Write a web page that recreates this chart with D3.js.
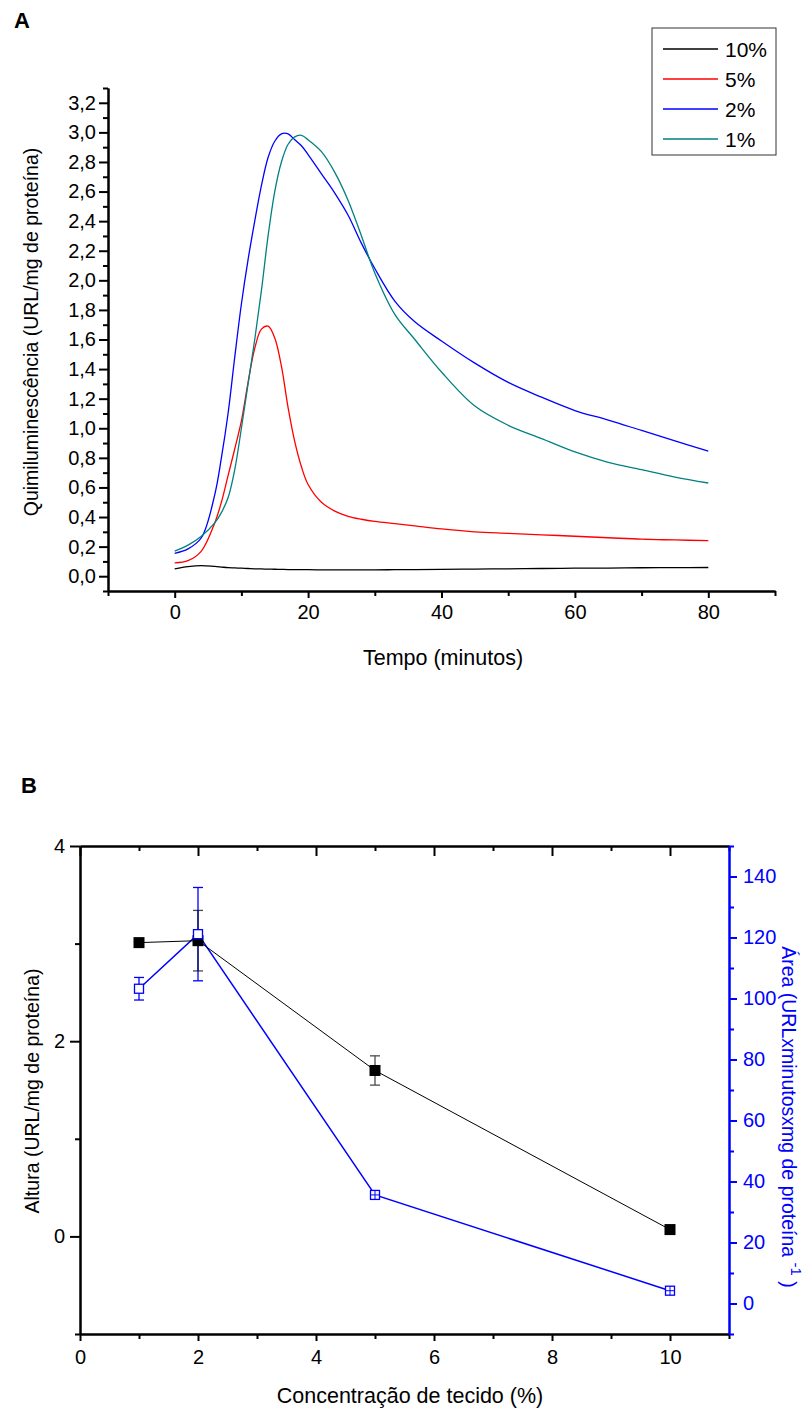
<!DOCTYPE html>
<html>
<head>
<meta charset="utf-8">
<script src="https://cdn.jsdelivr.net/npm/d3@7"></script>
<style>
  body { margin: 0; background: #fff; }
  text { font-family: "Liberation Sans", Arial, sans-serif; }
</style>
</head>
<body>
<div id="chart"></div>
<script>
const width = 812
const height = 1411

// Panel A: time course of chemiluminescence
const tempo = [0, 2, 4, 6, 7, 8, 9, 10, 11, 12, 13, 14, 15, 16, 17, 18, 19, 20, 22, 24, 26, 28, 30, 33, 36, 40, 45, 50, 55, 60, 65, 70, 75, 80]
const conc10 = [0.05, 0.065, 0.072, 0.066, 0.062, 0.058, 0.056, 0.054, 0.052, 0.05, 0.049, 0.048, 0.047, 0.046, 0.045, 0.045, 0.044, 0.044, 0.043, 0.043, 0.043, 0.043, 0.043, 0.044, 0.045, 0.046, 0.048, 0.05, 0.052, 0.054, 0.055, 0.057, 0.058, 0.059]
const conc5 = [0.09, 0.105, 0.17, 0.36, 0.5, 0.68, 0.86, 1.05, 1.31, 1.54, 1.67, 1.69, 1.61, 1.42, 1.14, 0.91, 0.74, 0.62, 0.5, 0.44, 0.405, 0.385, 0.37, 0.355, 0.34, 0.32, 0.3, 0.29, 0.28, 0.27, 0.26, 0.25, 0.245, 0.24]
const conc2 = [0.155, 0.185, 0.26, 0.55, 0.8, 1.1, 1.48, 1.84, 2.14, 2.4, 2.64, 2.83, 2.94, 2.99, 2.99, 2.95, 2.91, 2.85, 2.72, 2.59, 2.44, 2.25, 2.08, 1.86, 1.72, 1.59, 1.44, 1.31, 1.21, 1.12, 1.055, 0.985, 0.915, 0.845]
const conc1 = [0.17, 0.21, 0.27, 0.36, 0.43, 0.53, 0.72, 1.0, 1.3, 1.6, 1.93, 2.3, 2.6, 2.8, 2.92, 2.97, 2.98, 2.95, 2.87, 2.73, 2.54, 2.3, 2.05, 1.77, 1.6, 1.38, 1.15, 1.02, 0.93, 0.84, 0.77, 0.72, 0.67, 0.63]
const seriesNames = ["10%", "5%", "2%", "1%"]
const seriesColors = ["#000000", "#ff0000", "#0000ff", "#008080"]
const yTicksA = [0, 0.2, 0.4, 0.6, 0.8, 1.0, 1.2, 1.4, 1.6, 1.8, 2.0, 2.2, 2.4, 2.6, 2.8, 3.0, 3.2]
const xTicksA = [0, 20, 40, 60, 80]

// Panel B: peak height and area vs tissue concentration
const concTecido = [1, 2, 5, 10]
const altura = [3.01, 3.03, 1.70, 0.07]
const alturaErr = [0, 0.31, 0.15, 0]
const area = [103.2, 121.1, 35.6, 4.2]
const areaErr = [3.7, 15.3, 0.6, 0.6]
const yTicksB = [0, 2, 4]
const xTicksB = [0, 2, 4, 6, 8, 10]
const yTicksB2 = [0, 20, 40, 60, 80, 100, 120, 140]

const fontSize = "20px"
const titleH = "21.5px"   // horizontal titles
const titleV = "19.5px"   // vertical titles

const svg = d3.select("#chart")
  .append("svg")
  .attr("width", width)
  .attr("height", height)

function styleAxis(g, color, sw) {
  g.select(".domain").attr("stroke", color).attr("stroke-width", sw)
  g.selectAll(".tick line").attr("stroke", color).attr("stroke-width", sw)
  g.selectAll(".tick text").attr("fill", color)
    .style("font-family", '"Liberation Sans", Arial, sans-serif')
    .style("font-size", fontSize)
}

// ---------- Panel A ----------
const xA = d3.scaleLinear().domain([-10, 90]).range([108, 775])
const yA = d3.scaleLinear().domain([-0.1, 3.3]).range([591, 88])

svg.append("text").attr("x", 14).attr("y", 28)
  .style("font-weight", "bold").style("font-size", "22px").text("A")

const lineA = d3.line()
  .x(d => xA(d[0]))
  .y(d => yA(d[1]))
  .curve(d3.curveCatmullRom.alpha(0.5))

const seriesA = [conc10, conc5, conc2, conc1]
seriesA.forEach((vals, i) => {
  svg.append("path")
    .datum(tempo.map((t, j) => [t, vals[j]]))
    .attr("fill", "none")
    .attr("stroke", seriesColors[i])
    .attr("stroke-width", 1.3)
    .attr("d", lineA)
})

// minor ticks first, then major ticks with labels
const yMinorA = d3.range(-1, 34, 2).map(d => d / 10)
svg.append("g").attr("transform", "translate(108,0)")
  .call(d3.axisLeft(yA).tickValues(yMinorA).tickSize(5).tickSizeOuter(0).tickFormat(""))
  .call(g => styleAxis(g, "#000", 2))
svg.append("g").attr("transform", "translate(108,0)")
  .call(d3.axisLeft(yA).tickValues(yTicksA).tickSize(9).tickSizeOuter(0).tickPadding(3)
    .tickFormat(d => d3.format(".1f")(d).replace(".", ",")))
  .call(g => styleAxis(g, "#000", 2))

svg.append("g").attr("transform", "translate(0,591)")
  .call(d3.axisBottom(xA).tickValues([-10, 10, 30, 50, 70, 90]).tickSize(5).tickSizeOuter(0).tickFormat(""))
  .call(g => styleAxis(g, "#000", 2))
svg.append("g").attr("transform", "translate(0,591)")
  .call(d3.axisBottom(xA).tickValues(xTicksA).tickSize(7).tickSizeOuter(0).tickPadding(7))
  .call(g => styleAxis(g, "#000", 2))

svg.append("text")
  .attr("transform", "translate(38,332) rotate(-90)")
  .attr("text-anchor", "middle")
  .style("font-size", titleV)
  .text("Quimiluminescência (URL/mg de proteína)")

svg.append("text")
  .attr("x", 443).attr("y", 665)
  .attr("text-anchor", "middle")
  .style("font-size", titleH)
  .text("Tempo (minutos)")

// Legend
const legend = svg.append("g").attr("id", "legend")
legend.append("rect")
  .attr("x", 652).attr("y", 28).attr("width", 124).attr("height", 127)
  .attr("fill", "#fff").attr("stroke", "#333").attr("stroke-width", 1)
seriesNames.forEach((name, i) => {
  const y = 49 + i * 30
  legend.append("line")
    .attr("x1", 663).attr("x2", 718).attr("y1", y).attr("y2", y)
    .attr("stroke", seriesColors[i]).attr("stroke-width", 1.3)
  legend.append("text")
    .attr("x", 725).attr("y", y + 8)
    .style("font-size", "21px")
    .text(name)
})

// ---------- Panel B ----------
const xB = d3.scaleLinear().domain([0, 11]).range([80, 729])
const yB = d3.scaleLinear().domain([-1, 4]).range([1334, 846])
const yB2 = d3.scaleLinear().domain([-10, 150]).range([1334, 846])

svg.append("text").attr("x", 21).attr("y", 793)
  .style("font-weight", "bold").style("font-size", "22px").text("B")

// top axis (ticks pointing inward, no labels)
svg.append("g").attr("transform", "translate(0,846)")
  .call(d3.axisTop(xB).tickValues([1, 3, 5, 7, 9, 11]).tickSize(-5).tickSizeOuter(0).tickFormat(""))
  .call(g => styleAxis(g, "#000", 2))
svg.append("g").attr("transform", "translate(0,846)")
  .call(d3.axisTop(xB).tickValues(xTicksB).tickSize(-10).tickSizeOuter(0).tickFormat(""))
  .call(g => styleAxis(g, "#000", 2))

// bottom axis
svg.append("g").attr("transform", "translate(0,1334)")
  .call(d3.axisBottom(xB).tickValues([1, 3, 5, 7, 9, 11]).tickSize(5).tickSizeOuter(0).tickFormat(""))
  .call(g => styleAxis(g, "#000", 2))
svg.append("g").attr("transform", "translate(0,1334)")
  .call(d3.axisBottom(xB).tickValues(xTicksB).tickSize(7).tickSizeOuter(0).tickPadding(9))
  .call(g => styleAxis(g, "#000", 2))

// left axis
svg.append("g").attr("transform", "translate(80,0)")
  .call(d3.axisLeft(yB).tickValues([-1, 1, 3]).tickSize(5).tickSizeOuter(0).tickFormat(""))
  .call(g => styleAxis(g, "#000", 2))
svg.append("g").attr("transform", "translate(80,0)")
  .call(d3.axisLeft(yB).tickValues(yTicksB).tickSize(10).tickSizeOuter(0).tickPadding(5)
    .tickFormat(d3.format("d")))
  .call(g => styleAxis(g, "#000", 2))

// right axis (blue)
svg.append("g").attr("transform", "translate(729,0)")
  .call(d3.axisRight(yB2).tickValues(d3.range(-10, 151, 20)).tickSize(5).tickSizeOuter(0).tickFormat(""))
  .call(g => styleAxis(g, "#0000ff", 2))
svg.append("g").attr("transform", "translate(729,0)")
  .call(d3.axisRight(yB2).tickValues(yTicksB2).tickSize(8).tickSizeOuter(0).tickPadding(6))
  .call(g => styleAxis(g, "#0000ff", 2))

svg.append("text")
  .attr("transform", "translate(39,1091) rotate(-90)")
  .attr("text-anchor", "middle")
  .style("font-size", titleV)
  .text("Altura (URL/mg de proteína)")

svg.append("text")
  .attr("x", 410).attr("y", 1403)
  .attr("text-anchor", "middle")
  .style("font-size", titleH)
  .text("Concentração de tecido (%)")

const rightLabel = svg.append("text")
  .attr("transform", "translate(782,1117) rotate(90)")
  .attr("text-anchor", "middle")
  .attr("fill", "#0000ff")
  .style("font-size", titleV)
rightLabel.append("tspan").text("Área (URLxminutosxmg de proteína ")
rightLabel.append("tspan").attr("dy", -9).style("font-size", "15px").text("-1")
rightLabel.append("tspan").attr("dy", 9).text(" )")

// connecting lines
const lineArea = d3.line().x((d, i) => xB(concTecido[i])).y(d => yB2(d))
const lineAltura = d3.line().x((d, i) => xB(concTecido[i])).y(d => yB(d))

svg.append("path").datum(area)
  .attr("fill", "none").attr("stroke", "#0000ff").attr("stroke-width", 1.5)
  .attr("d", lineArea)
svg.append("path").datum(altura)
  .attr("fill", "none").attr("stroke", "#000").attr("stroke-width", 1)
  .attr("d", lineAltura)

// error bars
function errorBars(vals, errs, scale, color, opacity) {
  const g = svg.append("g").attr("stroke", color).attr("stroke-width", 1.3).attr("opacity", opacity)
  vals.forEach((v, i) => {
    if (!errs[i]) return
    const x = xB(concTecido[i])
    const y1 = scale(v - errs[i]), y2 = scale(v + errs[i])
    g.append("line").attr("x1", x).attr("x2", x).attr("y1", y1).attr("y2", y2)
    g.append("line").attr("x1", x - 5).attr("x2", x + 5).attr("y1", y1).attr("y2", y1)
    g.append("line").attr("x1", x - 5).attr("x2", x + 5).attr("y1", y2).attr("y2", y2)
  })
}
errorBars(area, areaErr, yB2, "#0000ff", 1)
errorBars(altura, alturaErr, yB, "#000", 0.7)

// markers
svg.append("g").selectAll("rect")
  .data(altura)
  .enter()
  .append("rect")
  .attr("x", (d, i) => xB(concTecido[i]) - 5.5)
  .attr("y", d => yB(d) - 5.5)
  .attr("width", 11).attr("height", 11)
  .attr("fill", "#000")

const areaMarks = svg.append("g")
area.forEach((d, i) => {
  const x = xB(concTecido[i]), y = yB2(d)
  areaMarks.append("rect")
    .attr("x", x - 4.5).attr("y", y - 4.5)
    .attr("width", 9).attr("height", 9)
    .attr("fill", "#fff").attr("stroke", "#0000ff").attr("stroke-width", 1.3)
  if (areaErr[i] < 1) {
    // tiny error bar drawn inside the marker
    areaMarks.append("line").attr("x1", x).attr("x2", x).attr("y1", y - 4.5).attr("y2", y + 4.5)
      .attr("stroke", "#0000ff").attr("stroke-width", 1)
    areaMarks.append("line").attr("x1", x - 4.5).attr("x2", x + 4.5).attr("y1", y).attr("y2", y)
      .attr("stroke", "#0000ff").attr("stroke-width", 1)
  }
})
</script>
</body>
</html>
